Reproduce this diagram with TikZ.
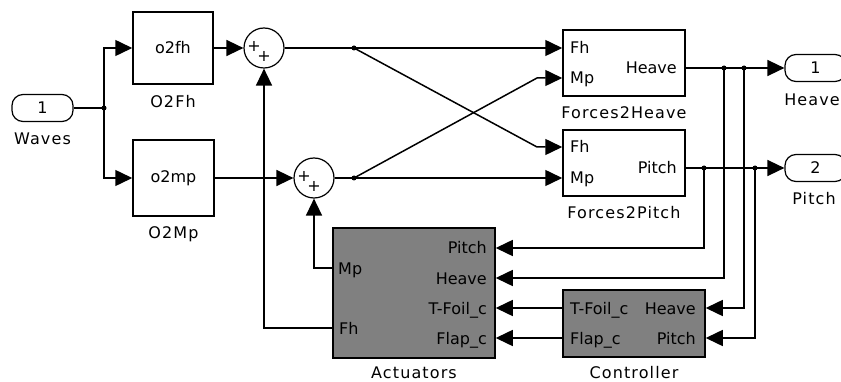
\documentclass[tikz,border=0pt]{standalone}
\usepackage{fontspec}
\setmainfont{DejaVu Sans}
\newfontfamily\namefont[LetterSpace=7]{DejaVu Sans}
\definecolor{ink}{HTML}{000000}
\definecolor{shade}{HTML}{808080}
\usetikzlibrary{arrows.meta,calc}
\tikzset{
  >={Triangle[length=17pt,width=16pt]},
  box/.style={draw=ink,line width=1.5pt,inner sep=0pt,fill=white,font=\fontsize{16}{18}\selectfont},
  gbox/.style={box,fill=shade},
  port/.style={draw=ink,line width=1.2pt,rounded corners=11pt,minimum width=61pt,minimum height=27pt,inner sep=0pt,font=\fontsize{16}{18}\selectfont},
  sumc/.style={circle,draw=ink,line width=1.2pt,minimum size=40pt,inner sep=0pt,fill=white},
  pin/.style={font=\fontsize{16}{18}\selectfont,inner sep=0pt,text height=12pt,text depth=0pt},
  lab/.style={font=\namefont\fontsize{16}{18}\selectfont,inner sep=0pt,text height=12pt,text depth=0pt},
  sgn/.style={font=\fontsize{16}{17}\selectfont,inner sep=0pt},
  dot/.style={circle,fill=ink,inner sep=0pt,minimum size=5pt},
  sig/.style={->,draw=ink,line width=1.5pt},
  wire/.style={draw=ink,line width=1.5pt},
}
\begin{document}
\begin{tikzpicture}[x=1pt,y=-1pt]
\useasboundingbox (0,0) rectangle (841,382);
\clip (0,0) rectangle (841,382);
% Input port
\node[port] (waves) at (42.5,108) {1};
\node[lab] (wavesl) at (42.5,139) {Waves};
\node[dot] (b0) at (104,108) {};
% Gains
\node[box,minimum width=80pt,minimum height=72pt] (o2fh) at (173,48) {o2fh};
\node[lab] (o2fhl) at (173,102) {O2Fh};
\node[box,minimum width=81pt,minimum height=76pt] (o2mp) at (173.5,178) {o2mp};
\node[lab] (o2mpl) at (173.5,232.5) {O2Mp};
% Sums
\node[sumc] (s1) at (264,48) {};
\node[sgn] (s1a) at ([shift={(-10,-2)}]s1.center) {+};
\node[sgn] (s1b) at ([shift={(0,8)}]s1.center) {+};
\node[sumc] (s2) at (314,178) {};
\node[sgn] (s2a) at ([shift={(-10,-2)}]s2.center) {+};
\node[sgn] (s2b) at ([shift={(0,8)}]s2.center) {+};
\node[dot] (j1) at (354,48) {};
\node[dot] (j2) at (354,178) {};
\coordinate (c1) at (537,147);
\coordinate (c2) at (537,78);
% Forces2Heave
\node[box,minimum width=122pt,minimum height=66pt] (f2h) at (624,63) {};
\node[pin,anchor=west] (f2hFh) at (570,48) {Fh};
\node[pin,anchor=west] (f2hMp) at (570,78) {Mp};
\node[pin,anchor=east] (f2hHv) at (677,68) {Heave};
\node[lab] (f2hl) at (624,113) {Forces2Heave};
% Forces2Pitch
\node[box,minimum width=122pt,minimum height=66pt] (f2p) at (624,163) {};
\node[pin,anchor=west] (f2pFh) at (570,147) {Fh};
\node[pin,anchor=west] (f2pMp) at (570,178) {Mp};
\node[pin,anchor=east] (f2pPt) at (677,168) {Pitch};
\node[lab] (f2pl) at (624,213) {Forces2Pitch};
% Output ports
\node[dot] (jh1) at (724,68) {};
\node[dot] (jh2) at (744,68) {};
\node[dot] (jp1) at (704,168) {};
\node[dot] (jp2) at (755,168) {};
\node[port] (out1) at (815.5,68) {1};
\node[lab] (out1l) at (812,100) {Heave};
\node[port] (out2) at (815.5,168) {2};
\node[lab] (out2l) at (814,199) {Pitch};
% Actuators
\node[gbox,minimum width=162pt,minimum height=130pt] (act) at (414,293) {};
\node[pin,anchor=east] (actPt) at (487,248) {Pitch};
\node[pin,anchor=east] (actHv) at (487,278) {Heave};
\node[pin,anchor=east] (actTf) at (487,308) {T-Foil\_c};
\node[pin,anchor=east] (actFl) at (487,338) {Flap\_c};
\node[pin,anchor=west] (actMp) at (338,268) {Mp};
\node[pin,anchor=west] (actFh) at (339,328) {Fh};
\node[lab] (actl) at (414,372) {Actuators};
% Controller
\node[gbox,minimum width=142pt,minimum height=67pt] (ctl) at (634,323.5) {};
\node[pin,anchor=west] (ctlTf) at (570,308) {T-Foil\_c};
\node[pin,anchor=west] (ctlFl) at (570,338) {Flap\_c};
\node[pin,anchor=east] (ctlHv) at (696,308) {Heave};
\node[pin,anchor=east] (ctlPt) at (696,338) {Pitch};
\node[lab] (ctll) at (634,372) {Controller};
% Forward path
\draw[wire] (waves.east) -- (b0.center);
\draw[sig] (b0.center) |- (o2fh.west);
\draw[sig] (b0.center) |- (o2mp.west);
\draw[sig] (o2fh.east) -- (s1.west);
\draw[sig] (o2mp.east) -- (s2.west);
\draw[sig] (s1.east) -- (f2h.west |- f2hFh);
\draw[sig] (s2.east) -- (f2p.west |- f2pMp);
\draw[sig] (j1.center) -- (c1) -- (f2p.west |- f2pFh);
\draw[sig] (j2.center) -- (c2) -- (f2h.west |- f2hMp);
\draw[sig] (f2h.east |- f2hHv) -- (out1.west);
\draw[sig] (f2p.east |- f2pPt) -- (out2.west);
% Feedback
\draw[sig] (jp1.center) |- (act.east |- actPt);
\draw[sig] (jh1.center) |- (act.east |- actHv);
\draw[sig] (jh2.center) |- (ctl.east |- ctlHv);
\draw[sig] (jp2.center) |- (ctl.east |- ctlPt);
\draw[sig] (ctl.west |- ctlTf) -- (act.east |- actTf);
\draw[sig] (ctl.west |- ctlFl) -- (act.east |- actFl);
\draw[sig] (act.west |- actMp) -| (s2.south);
\draw[sig] (act.west |- actFh) -| (s1.south);
\end{tikzpicture}
\end{document}
